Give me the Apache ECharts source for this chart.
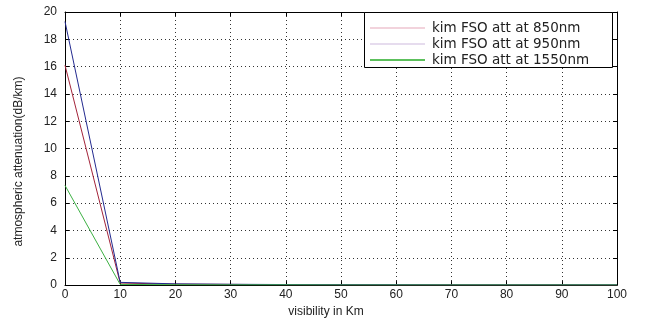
<!DOCTYPE html>
<html>
<head>
<meta charset="utf-8">
<script src="https://cdn.jsdelivr.net/npm/echarts@6/dist/echarts.min.js"></script>
<style>
  html, body { margin: 0; padding: 0; background: #fff; }
  #chart { width: 646px; height: 323px; }
</style>
</head>
<body>
<div id="chart"></div>
<script>
// Visibility (km) sample points
const visibility = [0, 10, 20, 30, 40, 50, 60, 70, 80, 90, 100];
// Kim model attenuation (dB/km) per wavelength
const att850 = [16.1, 0.15, 0.07, 0.05, 0.03, 0.03, 0.02, 0.02, 0.02, 0.02, 0.01];
const att950 = [19.3, 0.2, 0.09, 0.06, 0.04, 0.03, 0.03, 0.02, 0.02, 0.02, 0.02];
const att1550 = [7.3, 0.05, 0.03, 0.02, 0.02, 0.01, 0.01, 0.01, 0.01, 0.01, 0.01];
const seriesNames = ['kim FSO att at 850nm', 'kim FSO att at 950nm', 'kim FSO att at 1550nm'];
const xTicks = { min: 0, max: 100, step: 10 };
const yTicks = { min: 0, max: 20, step: 2 };

const pairs = (ys) => visibility.map((v, i) => [v, ys[i]]);

const chart = echarts.init(document.getElementById('chart'));
const labelFont = { color: '#222', fontFamily: 'Liberation Sans, Arial, sans-serif', fontSize: 12 };
const gridLine = { show: true, lineStyle: { color: '#333', type: [1, 3], width: 1 } };

chart.setOption({
  animation: false,
  backgroundColor: '#fff',
  grid: { left: 65, right: 29, top: 12, bottom: 32, containLabel: false },
  xAxis: [{
    type: 'value', min: xTicks.min, max: xTicks.max, interval: xTicks.step,
    name: 'visibility in Km', nameLocation: 'middle', nameGap: 18,
    nameTextStyle: Object.assign({}, labelFont, { fontSize: 12, padding: [0, 30, 0, 0] }),
    axisLine: { show: true, lineStyle: { color: '#000', width: 1 } },
    axisTick: { show: true, inside: true, length: 4, lineStyle: { color: '#000' } },
    axisLabel: Object.assign({}, labelFont, { margin: 4 }),
    splitLine: gridLine
  }, {
    type: 'value', position: 'top', min: xTicks.min, max: xTicks.max, interval: xTicks.step,
    axisLine: { show: true, onZero: false, lineStyle: { color: '#000', width: 1 } },
    axisTick: { show: true, inside: true, length: 4, lineStyle: { color: '#000' } },
    axisLabel: { show: false }, splitLine: { show: false }
  }],
  yAxis: [{
    type: 'value', min: yTicks.min, max: yTicks.max, interval: yTicks.step,
    name: 'atmospheric attenuation(dB/km)', nameLocation: 'middle', nameGap: 40,
    nameTextStyle: Object.assign({}, labelFont, { fontSize: 12, padding: [0, 26, 0, 0] }),
    axisLine: { show: true, lineStyle: { color: '#000', width: 1 } },
    axisTick: { show: true, inside: true, length: 4, lineStyle: { color: '#000' } },
    axisLabel: Object.assign({}, labelFont, { margin: 8 }),
    splitLine: gridLine
  }, {
    type: 'value', position: 'right', min: yTicks.min, max: yTicks.max, interval: yTicks.step,
    axisLine: { show: true, onZero: false, lineStyle: { color: '#000', width: 1 } },
    axisTick: { show: true, inside: true, length: 4, lineStyle: { color: '#000' } },
    axisLabel: { show: false }, splitLine: { show: false }
  }],
  graphic: [{
    type: 'rect', z: 3,
    shape: { x: 364.5, y: 12.5, width: 248, height: 55 },
    style: { fill: '#fff', stroke: '#000', lineWidth: 1 }
  }],
  legend: {
    orient: 'vertical', left: 370, top: 21, z: 5,
    itemWidth: 55, itemHeight: 2, itemGap: 2, padding: 0,
    icon: 'rect',
    textStyle: { color: '#222', fontFamily: 'DejaVu Sans, sans-serif', fontSize: 13.5, lineHeight: 13, padding: [0, 0, 0, 2] },
    data: [
      { name: seriesNames[0], itemStyle: { color: '#f2d3dc' } },
      { name: seriesNames[1], itemStyle: { color: '#e6dcee' } },
      { name: seriesNames[2], itemStyle: { color: '#5cc05c' } }
    ]
  },
  series: [
    { name: seriesNames[0], type: 'line', data: pairs(att850), showSymbol: false,
      lineStyle: { color: '#a3243a', width: 1 }, itemStyle: { color: '#a3243a' } },
    { name: seriesNames[1], type: 'line', data: pairs(att950), showSymbol: false,
      lineStyle: { color: '#232a8f', width: 1 }, itemStyle: { color: '#232a8f' } },
    { name: seriesNames[2], type: 'line', data: pairs(att1550), showSymbol: false,
      lineStyle: { color: '#3cb043', width: 1 }, itemStyle: { color: '#3cb043' } }
  ]
});
</script>
</body>
</html>
